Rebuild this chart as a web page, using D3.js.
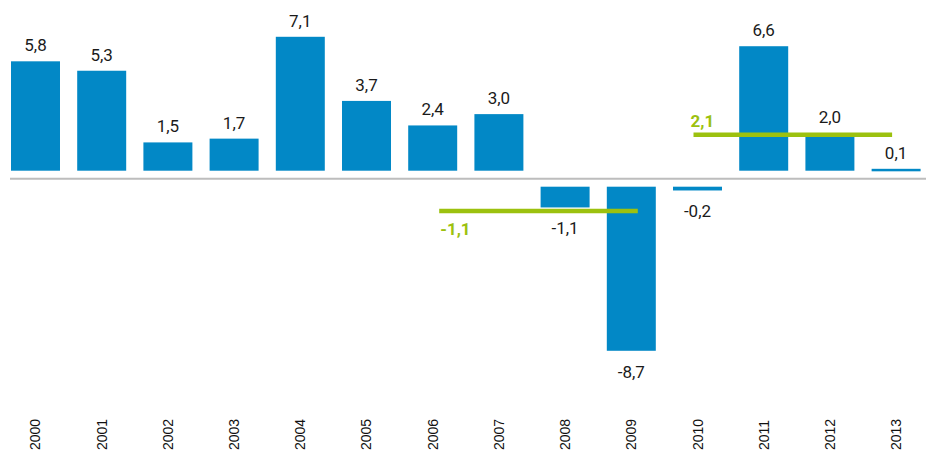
<!DOCTYPE html>
<html>
<head>
<meta charset="utf-8">
<script src="https://cdnjs.cloudflare.com/ajax/libs/d3/7.8.5/d3.min.js"></script>
<style>
  body { margin: 0; background: #fff; }
  svg { display: block; }
</style>
</head>
<body>
<svg width="926" height="457"></svg>
<script>
let years = ['2000', '2001', '2002', '2003', '2004', '2005', '2006', '2007', '2008', '2009', '2010', '2011', '2012', '2013'];
let growth = [5.8, 5.3, 1.5, 1.7, 7.1, 3.7, 2.4, 3.0, -1.1, -8.7, -0.2, 6.6, 2.0, 0.1];
// period averages (green lines)
let avgValues = [-1.1, 2.1];
let avgFrom = ['2006', '2010'];
let avgTo = ['2009', '2013'];

let svg = d3.select('svg'),
    width = +svg.attr('width'),
    height = +svg.attr('height');

let blue = '#0288c6',
    green = '#9cc10f',
    gap = 8;

let fmt = v => d3.format('.1f')(v).replace('.', ',').replace('\u2212', '-');

let x = d3.scaleBand()
    .domain(years)
    .range([11, 920.6])
    .paddingInner(0.26)
    .paddingOuter(0);

let y = d3.scaleLinear()
    .domain([-9, 8])
    .range([178.7 + 9 * 18.86, 178.7 - 8 * 18.86]);

let data = years.map((yr, i) => ({year: yr, value: growth[i]}));

// zero line
svg.append('line')
    .attr('x1', 10).attr('x2', width)
    .attr('y1', y(0)).attr('y2', y(0))
    .attr('stroke', '#bdbdbd')
    .attr('stroke-width', 2);

let barTop = d => d.value >= 0 ? y(d.value) - gap : y(0) + gap;
let barBottom = d => d.value >= 0 ? y(0) - gap : y(d.value) + gap;

svg.append('g')
    .selectAll('rect')
    .data(data)
    .enter().append('rect')
    .attr('x', d => x(d.year))
    .attr('width', x.bandwidth())
    .attr('y', barTop)
    .attr('height', d => Math.max(2.5, barBottom(d) - barTop(d)))
    .attr('fill', blue);

svg.append('g')
    .selectAll('text')
    .data(data)
    .enter().append('text')
    .attr('x', d => x(d.year) + x.bandwidth() / 2)
    .attr('y', d => d.value >= 0 ? barTop(d) - 10 : barBottom(d) + 27)
    .attr('text-anchor', 'middle')
    .attr('font-family', 'Roboto, sans-serif')
    .attr('font-size', 17)
    .attr('fill', '#1a1a1a')
    .text(d => fmt(d.value));

// average lines
let avgs = avgValues.map((v, i) => ({value: v, from: avgFrom[i], to: avgTo[i]}));
let shift = [6.5, -4];
let g = svg.append('g');
avgs.forEach((a, i) => {
    let x1 = x(a.from) + x.bandwidth() / 2 + shift[i],
        x2 = x(a.to) + x.bandwidth() / 2 + shift[i],
        yc = (a.value >= 0 ? y(a.value) - gap : y(a.value) + gap) + 3.6;
    g.append('line')
        .attr('x1', x1).attr('x2', x2)
        .attr('y1', yc).attr('y2', yc)
        .attr('stroke', green)
        .attr('stroke-width', 4.5);
    g.append('text')
        .attr('x', a.value >= 0 ? x1 - 3 : x1 + 1)
        .attr('y', a.value >= 0 ? yc - 8 : yc + 24)
        .attr('font-family', 'Roboto, sans-serif')
        .attr('font-weight', 'bold')
        .attr('font-size', 17)
        .attr('fill', green)
        .text(fmt(a.value));
});

// year labels
svg.append('g')
    .selectAll('text')
    .data(years)
    .enter().append('text')
    .attr('transform', d => `translate(${x(d) + x.bandwidth() / 2 + 5},450) rotate(-90)`)
    .attr('font-family', '"Liberation Sans", Arial, sans-serif')
    .attr('font-size', 14)
    .attr('fill', '#111')
    .text(d => d);
</script>
</body>
</html>
